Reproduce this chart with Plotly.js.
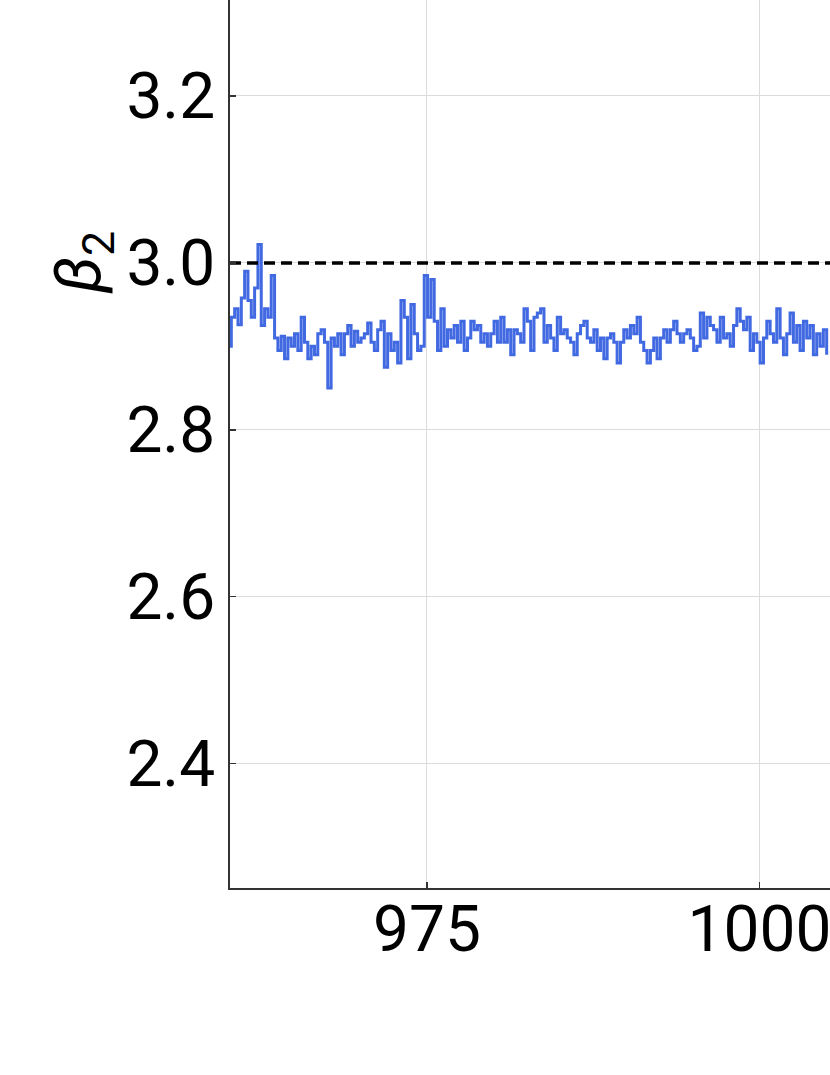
<!DOCTYPE html>
<html>
<head>
<meta charset="utf-8">
<script src="https://cdn.plot.ly/plotly-3.0.1.min.js"></script>
<style>
  html, body { margin: 0; padding: 0; background: #fff; }
  #chart { width: 830px; height: 1075px; }
</style>
</head>
<body>
<div id="chart"></div>
<script>
// beta_2 trace (one value every 0.25 on x)
var xStart = 960.05;
var xStep = 0.25;
var beta2 = [
  2.900, 2.935, 2.945, 2.926, 2.958, 2.990, 2.955, 2.935, 2.970, 3.022,
  2.925, 2.945, 2.935, 2.985, 2.910, 2.895, 2.912, 2.885, 2.910, 2.900,
  2.915, 2.895, 2.935, 2.905, 2.885, 2.900, 2.890, 2.915, 2.920, 2.905,
  2.850, 2.910, 2.900, 2.915, 2.890, 2.915, 2.925, 2.900, 2.918, 2.905,
  2.910, 2.915, 2.928, 2.905, 2.895, 2.920, 2.930, 2.875, 2.915, 2.895,
  2.905, 2.880, 2.955, 2.935, 2.885, 2.950, 2.915, 2.895, 2.900, 2.985,
  2.935, 2.980, 2.930, 2.895, 2.945, 2.900, 2.920, 2.910, 2.925, 2.905,
  2.930, 2.895, 2.910, 2.930, 2.920, 2.925, 2.905, 2.915, 2.900, 2.915,
  2.930, 2.905, 2.935, 2.905, 2.920, 2.890, 2.920, 2.915, 2.905, 2.945,
  2.930, 2.895, 2.935, 2.940, 2.945, 2.905, 2.925, 2.910, 2.895, 2.935,
  2.915, 2.920, 2.910, 2.905, 2.890, 2.915, 2.925, 2.930, 2.910, 2.905,
  2.920, 2.895, 2.910, 2.885, 2.910, 2.915, 2.905, 2.880, 2.905, 2.920,
  2.910, 2.925, 2.915, 2.935, 2.905, 2.895, 2.880, 2.895, 2.910, 2.885,
  2.910, 2.920, 2.905, 2.920, 2.930, 2.915, 2.905, 2.915, 2.920, 2.910,
  2.895, 2.900, 2.940, 2.910, 2.935, 2.925, 2.920, 2.905, 2.935, 2.910,
  2.915, 2.900, 2.925, 2.945, 2.930, 2.920, 2.935, 2.895, 2.915, 2.905,
  2.880, 2.910, 2.930, 2.915, 2.905, 2.945, 2.910, 2.890, 2.915, 2.940,
  2.905, 2.925, 2.895, 2.930, 2.910, 2.925, 2.890, 2.915, 2.900, 2.920,
  2.890
];
var refLevel = [3.0];
var xRange = [960.2, 1005.3];
var yRange = [2.251, 3.315];
var xTicks = [975, 1000];
var yTicks = [2.4, 2.6, 2.8, 3.0, 3.2];

var xs = beta2.map(function (v, i) { return xStart + i * xStep; });

var trace1 = {
  x: xs,
  y: beta2,
  mode: 'lines',
  line: { color: 'rgb(65, 105, 225)', width: 3, shape: 'hv' },
  hoverinfo: 'skip'
};

var trace2 = {
  x: xRange,
  y: [refLevel[0], refLevel[0]],
  mode: 'lines',
  line: { color: '#000', width: 3.5, dash: '11px,6px' },
  hoverinfo: 'skip'
};

var tickFont = { family: 'Roboto, sans-serif', size: 64, color: '#000' };

var layout = {
  width: 830,
  height: 1075,
  margin: { l: 230, r: 0, t: 0, b: 187 },
  paper_bgcolor: '#fff',
  plot_bgcolor: '#fff',
  showlegend: false,
  font: tickFont,
  xaxis: {
    range: xRange,
    tickvals: xTicks,
    ticks: 'inside',
    ticklen: 6,
    tickwidth: 1.5,
    tickcolor: '#333',
    ticklabelstandoff: -16,
    ticklabeloverflow: 'allow',
    showgrid: true,
    gridcolor: '#dcdcdc',
    gridwidth: 1,
    zeroline: false,
    showline: true,
    linecolor: '#333',
    linewidth: 2,
    tickfont: tickFont
  },
  yaxis: {
    range: yRange,
    tickvals: yTicks,
    ticktext: yTicks.map(function (v) { return v.toFixed(1); }),
    ticks: 'inside',
    ticklen: 6,
    tickwidth: 1.5,
    tickcolor: '#333',
    showgrid: true,
    gridcolor: '#dcdcdc',
    gridwidth: 1,
    zeroline: false,
    showline: true,
    linecolor: '#333',
    linewidth: 2,
    tickfont: tickFont
  },
  annotations: [{
    text: '<i>β</i><sub>2</sub>',
    xref: 'paper', yref: 'y',
    x: -0.245, y: 3.0,
    xanchor: 'center', yanchor: 'middle',
    textangle: -90,
    showarrow: false,
    font: { family: 'Roboto, sans-serif', size: 64, color: '#000' }
  }]
};

Plotly.newPlot('chart', [trace1, trace2], layout, { displayModeBar: false, staticPlot: true });
</script>
</body>
</html>
